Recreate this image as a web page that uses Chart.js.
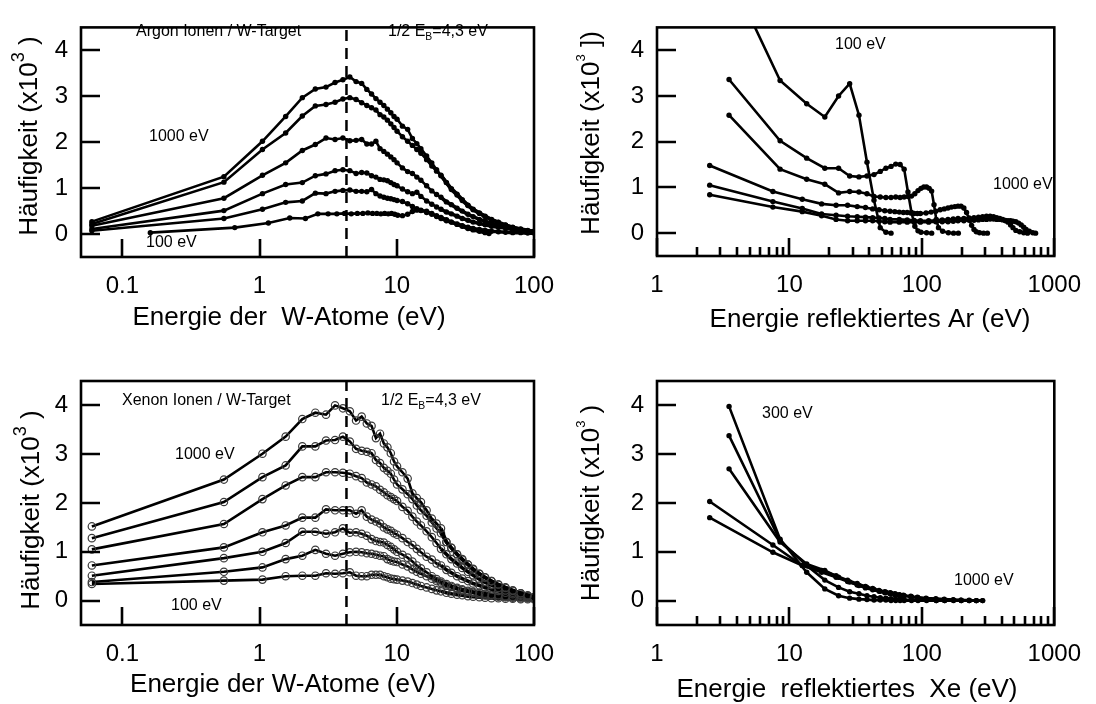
<!DOCTYPE html>
<html>
<head>
<meta charset="utf-8">
<title>Häufigkeit – W-Target</title>
<script src="https://cdn.jsdelivr.net/npm/chart.js@4.4.1/dist/chart.umd.min.js"></script>
<style>
  html, body { margin: 0; padding: 0; background: #fff; }
  #wrap { position: relative; width: 1096px; height: 704px; overflow: hidden; }
  #wrap canvas { position: absolute; left: 0; top: 0; }
</style>
</head>
<body>
<div id="wrap">
  <canvas id="arW" width="1096" height="704"></canvas>
  <canvas id="arR" width="1096" height="704"></canvas>
  <canvas id="xeW" width="1096" height="704"></canvas>
  <canvas id="xeR" width="1096" height="704"></canvas>
</div>
<script>
// ---- axes ----
const yTicks = [0, 1, 2, 3, 4];
const yMin = -0.5;
const yMax = 4.5;
const halfBind = 4.3; // 1/2 E_B
const wMajors = [0.1, 1, 10, 100];
const wLabels = ['0.1', '1', '10', '100'];
const rMajors = [1, 10, 100, 1000];
const rLabels = ['1', '10', '100', '1000'];
const minorSteps = [2, 3, 4, 5, 6, 7, 8, 9];

// ---- energy of sputtered W atoms (eV), shared bins ----
const gridW = [0.06, 0.55, 1.05, 1.55, 2.05, 2.55, 3.05, 3.55, 4.05, 4.55, 5.05, 5.55, 6.05, 6.55, 7.05, 7.55, 8.05, 8.55, 9.05, 9.55, 10.05,
  11, 12, 13, 14, 15, 16.5, 18, 19.5, 21, 23, 25, 27.5, 30, 33, 36, 40, 44, 49, 55, 62, 70, 80, 90, 100];

// Argon ions -> W atoms
const arW1000 = [0.27, 1.25, 2.02, 2.56, 2.97, 3.16, 3.20, 3.30, 3.36, 3.42, 3.32, 3.28, 3.15, 3.05, 2.95, 2.87, 2.80, 2.72, 2.64, 2.56, 2.50,
  2.35, 2.28, 2.08, 1.97, 1.86, 1.70, 1.55, 1.40, 1.28, 1.12, 0.97, 0.85, 0.73, 0.62, 0.53, 0.45, 0.38, 0.31, 0.25, 0.19, 0.14, 0.10, 0.07, 0.05];
const arW700 = [0.22, 1.13, 1.84, 2.20, 2.57, 2.79, 2.82, 2.87, 2.94, 2.97, 2.93, 2.86, 2.80, 2.75, 2.70, 2.60, 2.55, 2.48, 2.40, 2.32, 2.24,
  2.12, 2.02, 1.93, 1.84, 1.76, 1.62, 1.48, 1.37, 1.27, 1.12, 0.99, 0.87, 0.75, 0.63, 0.54, 0.46, 0.39, 0.32, 0.26, 0.20, 0.15, 0.11, 0.08, 0.06];
const arW500 = [0.18, 0.78, 1.28, 1.55, 1.82, 1.95, 2.09, 2.06, 2.09, 2.03, 2.04, 2.06, 1.96, 1.96, 2.02, 1.86, 1.80, 1.74, 1.68, 1.62, 1.55,
  1.44, 1.36, 1.32, 1.24, 1.17, 1.05, 0.94, 0.86, 0.80, 0.70, 0.64, 0.56, 0.50, 0.43, 0.38, 0.32, 0.28, 0.23, 0.19, 0.15, 0.11, 0.08, 0.06, 0.05];
const arW300 = [0.11, 0.51, 0.88, 1.08, 1.12, 1.27, 1.31, 1.38, 1.40, 1.38, 1.32, 1.34, 1.33, 1.27, 1.24, 1.19, 1.18, 1.16, 1.12, 1.08, 1.05,
  0.98, 0.92, 0.88, 0.91, 0.82, 0.72, 0.65, 0.59, 0.54, 0.48, 0.44, 0.39, 0.34, 0.30, 0.26, 0.23, 0.20, 0.17, 0.15, 0.13, 0.10, 0.08, 0.06, 0.05];
const arW200 = [0.07, 0.34, 0.54, 0.69, 0.72, 0.89, 0.88, 0.93, 0.95, 0.96, 0.93, 0.93, 0.92, 0.97, 0.88, 0.83, 0.80, 0.78, 0.77, 0.75, 0.73,
  0.71, 0.66, 0.60, 0.55, 0.51, 0.47, 0.43, 0.38, 0.34, 0.29, 0.26, 0.22, 0.18, 0.15, 0.12, 0.10, 0.08, 0.06, 0.05, 0.04, 0.03, 0.03, 0.02, 0.02];
const arW100x = [0.16, 0.66, 1.16, 1.66, 2.16, 2.66, 3.16, 3.66, 4.16, 4.66, 5.16, 5.66, 6.16, 6.66, 7.16, 7.66, 8.16, 8.66, 9.16, 9.66, 10.16,
  11, 12, 13, 14, 15, 16.5, 18, 19.5, 21, 23, 25, 27.5, 30, 33, 36, 40, 44, 47];
const arW100 = [0.03, 0.14, 0.24, 0.35, 0.34, 0.44, 0.44, 0.44, 0.45, 0.44, 0.45, 0.45, 0.46, 0.45, 0.45, 0.44, 0.45, 0.44, 0.45, 0.43, 0.41,
  0.40, 0.43, 0.49, 0.52, 0.52, 0.50, 0.45, 0.40, 0.36, 0.31, 0.26, 0.21, 0.17, 0.12, 0.09, 0.06, 0.03, 0.01];

// Xenon ions -> W atoms
const xeW1000 = [1.52, 2.48, 3.01, 3.36, 3.72, 3.85, 3.81, 4.00, 3.94, 3.88, 3.69, 3.77, 3.63, 3.58, 3.33, 3.42, 3.22, 3.14, 3.02, 2.85, 2.75,
  2.63, 2.50, 2.20, 2.10, 2.02, 1.85, 1.68, 1.58, 1.48, 1.20, 1.08, 0.95, 0.85, 0.74, 0.64, 0.55, 0.48, 0.40, 0.33, 0.26, 0.20, 0.15, 0.10, 0.07];
const xeW700 = [1.28, 2.02, 2.53, 2.77, 3.16, 3.16, 3.28, 3.29, 3.36, 3.26, 3.11, 3.07, 3.05, 3.02, 2.88, 2.82, 2.72, 2.66, 2.60, 2.48, 2.38,
  2.28, 2.18, 2.08, 1.95, 1.85, 1.74, 1.60, 1.48, 1.38, 1.20, 1.08, 0.95, 0.84, 0.74, 0.65, 0.55, 0.47, 0.40, 0.33, 0.27, 0.21, 0.15, 0.11, 0.07];
const xeW500 = [1.05, 1.57, 2.08, 2.36, 2.53, 2.53, 2.63, 2.63, 2.62, 2.60, 2.55, 2.51, 2.42, 2.38, 2.34, 2.27, 2.22, 2.16, 2.12, 2.08, 2.04,
  1.92, 1.84, 1.72, 1.62, 1.54, 1.42, 1.30, 1.18, 1.06, 0.95, 0.85, 0.76, 0.67, 0.59, 0.52, 0.44, 0.38, 0.32, 0.26, 0.21, 0.16, 0.12, 0.09, 0.07];
const xeW400 = [0.72, 1.09, 1.40, 1.54, 1.70, 1.70, 1.87, 1.85, 1.85, 1.85, 1.78, 1.85, 1.72, 1.66, 1.62, 1.58, 1.50, 1.46, 1.43, 1.38, 1.35,
  1.28, 1.20, 1.14, 1.06, 0.99, 0.90, 0.84, 0.76, 0.72, 0.63, 0.57, 0.50, 0.45, 0.40, 0.35, 0.31, 0.27, 0.23, 0.20, 0.16, 0.13, 0.10, 0.08, 0.07];
const xeW300 = [0.51, 0.87, 1.00, 1.18, 1.41, 1.41, 1.37, 1.40, 1.48, 1.39, 1.40, 1.37, 1.33, 1.26, 1.22, 1.20, 1.19, 1.14, 1.10, 1.05, 1.00,
  0.94, 0.88, 0.80, 0.72, 0.66, 0.58, 0.50, 0.44, 0.39, 0.34, 0.30, 0.26, 0.23, 0.20, 0.18, 0.16, 0.14, 0.12, 0.11, 0.09, 0.08, 0.07, 0.06, 0.05];
const xeW200 = [0.38, 0.59, 0.68, 0.85, 0.92, 1.04, 0.96, 0.92, 0.96, 0.99, 1.00, 0.99, 0.97, 0.96, 0.94, 0.92, 0.91, 0.85, 0.82, 0.80, 0.79,
  0.74, 0.70, 0.64, 0.59, 0.55, 0.50, 0.45, 0.40, 0.36, 0.31, 0.28, 0.24, 0.21, 0.18, 0.16, 0.13, 0.11, 0.10, 0.08, 0.07, 0.06, 0.05, 0.05, 0.05];
const xeW100 = [0.34, 0.41, 0.43, 0.50, 0.51, 0.51, 0.56, 0.55, 0.56, 0.58, 0.51, 0.50, 0.50, 0.53, 0.53, 0.53, 0.50, 0.48, 0.45, 0.44, 0.43,
  0.41, 0.39, 0.36, 0.33, 0.30, 0.27, 0.24, 0.21, 0.19, 0.16, 0.14, 0.12, 0.11, 0.09, 0.08, 0.07, 0.06, 0.05, 0.05, 0.04, 0.04, 0.03, 0.03, 0.03];

// ---- energy of reflected Ar (eV) ----
const arR100x = [3.5, 8.5, 13.5, 18.5, 23.5, 28.5, 33.5, 38.5, 43.5, 48.5, 53.5, 58.5];
const arR100 = [5.7, 3.34, 2.83, 2.54, 3.0, 3.27, 2.58, 1.55, 0.72, 0.12, 0.02, 0.0];
const arR200x = [3.5, 8.5, 13.5, 18.5, 23.5, 28.5, 33.5, 38.5, 43.5, 48.5, 53.5, 58.5, 63.5, 68.5, 73.5, 78.5, 83.5, 88.5, 93.5, 98.5, 108.5, 118.5];
const arR200 = [3.36, 2.02, 1.64, 1.42, 1.42, 1.25, 1.23, 1.25, 1.28, 1.35, 1.42, 1.46, 1.51, 1.50, 1.40, 0.90, 0.45, 0.15, 0.05, 0.02, 0.01, 0.0];
const arR300x = [3.5, 8.5, 13.5, 18.5, 23.5, 28.5, 33.5, 38.5, 43.5, 48.5, 53.5, 58.5, 63.5, 68.5, 73.5, 78.5, 83.5, 88.5, 93.5, 98.5,
  103.5, 108.5, 113.5, 118.5, 123.5, 128.5, 133.5, 143.5, 158.5, 173.5, 188.5];
const arR300 = [2.58, 1.40, 1.18, 1.07, 0.88, 0.91, 0.90, 0.86, 0.80, 0.79, 0.78, 0.78, 0.79, 0.78, 0.79, 0.80, 0.81, 0.86, 0.93, 0.98,
  1.01, 1.01, 0.98, 0.92, 0.62, 0.30, 0.12, 0.04, 0.01, 0.0, 0.0];
const arR500x = [2.5, 7.5, 12.5, 17.5, 22.5, 27.5, 32.5, 37.5, 42.5, 47.5, 52.5, 57.5, 62.5, 67.5, 72.5, 77.5, 82.5, 87.5, 92.5, 97.5,
  107.5, 117.5, 127.5, 137.5, 147.5, 157.5, 167.5, 177.5, 187.5, 197.5, 207.5, 217.5, 227.5, 237.5, 247.5, 257.5, 272.5, 292.5, 312.5];
const arR500 = [1.48, 0.91, 0.74, 0.64, 0.61, 0.61, 0.58, 0.56, 0.53, 0.51, 0.49, 0.48, 0.47, 0.46, 0.45, 0.45, 0.44, 0.43, 0.43, 0.43,
  0.44, 0.46, 0.48, 0.51, 0.53, 0.55, 0.57, 0.58, 0.59, 0.59, 0.55, 0.45, 0.30, 0.17, 0.08, 0.03, 0.01, 0.0, 0.0];
const arR700x = [2.5, 7.5, 12.5, 17.5, 22.5, 27.5, 32.5, 37.5, 42.5, 47.5, 52.5, 57.5, 67.5, 77.5, 87.5, 97.5, 112.5, 127.5, 142.5, 157.5,
  172.5, 187.5, 207.5, 227.5, 247.5, 267.5, 287.5, 307.5, 327.5, 347.5, 367.5, 387.5, 407.5, 427.5, 447.5, 467.5, 487.5, 512.5, 547.5, 587.5, 627.5];
const arR700 = [1.05, 0.69, 0.54, 0.42, 0.39, 0.37, 0.36, 0.35, 0.34, 0.33, 0.32, 0.30, 0.30, 0.29, 0.28, 0.27, 0.27, 0.28, 0.29, 0.30,
  0.31, 0.32, 0.32, 0.33, 0.34, 0.35, 0.36, 0.37, 0.37, 0.36, 0.34, 0.32, 0.30, 0.27, 0.24, 0.18, 0.12, 0.06, 0.03, 0.01, 0.0];
const arR1000x = [2.5, 7.5, 12.5, 17.5, 22.5, 27.5, 32.5, 37.5, 42.5, 47.5, 52.5, 57.5, 67.5, 77.5, 87.5, 97.5, 112.5, 127.5, 142.5, 157.5,
  172.5, 187.5, 207.5, 227.5, 247.5, 267.5, 287.5, 307.5, 327.5, 347.5, 367.5, 387.5, 407.5, 427.5, 447.5, 467.5, 487.5, 512.5, 537.5, 562.5,
  587.5, 612.5, 647.5, 687.5, 722.5];
const arR1000 = [0.84, 0.57, 0.47, 0.38, 0.30, 0.27, 0.27, 0.27, 0.27, 0.26, 0.25, 0.24, 0.24, 0.24, 0.24, 0.24, 0.24, 0.25, 0.25, 0.25,
  0.26, 0.27, 0.27, 0.28, 0.28, 0.29, 0.30, 0.30, 0.31, 0.31, 0.30, 0.30, 0.29, 0.28, 0.27, 0.27, 0.26, 0.25, 0.22, 0.18,
  0.13, 0.08, 0.04, 0.01, 0.0];

// ---- energy of reflected Xe (eV) ----
const xeRx1 = [3.5, 8.5, 13.5, 18.5, 23.5, 28.5, 33.5, 38.5, 43.5, 48.5, 53.5, 58.5, 63.5, 68.5, 73.5, 83.5, 93.5, 108.5, 128.5, 148.5,
  173.5, 198.5, 228.5, 258.5, 288.5];
const xeRx2 = [2.5, 7.5, 12.5, 17.5, 22.5, 27.5, 32.5, 37.5, 42.5, 47.5, 52.5, 57.5, 62.5, 67.5, 72.5, 82.5, 92.5, 107.5, 127.5, 147.5,
  172.5, 197.5, 227.5, 257.5, 287.5];
const xeR300 = [3.98, 1.26, 0.58, 0.24, 0.10, 0.05, 0.03, 0.02, 0.01, 0.01, 0.01, 0.0, 0.0, 0.0, 0.0, 0.0, 0.0, 0.0, 0.0, 0.0];
const xeR500 = [3.38, 1.23, 0.72, 0.42, 0.27, 0.18, 0.14, 0.10, 0.08, 0.06, 0.05, 0.04, 0.03, 0.03, 0.02, 0.01, 0.01, 0.01, 0.0, 0.0, 0.0, 0.0];
const xeR700 = [2.70, 1.20, 0.75, 0.62, 0.48, 0.38, 0.31, 0.27, 0.23, 0.19, 0.17, 0.15, 0.13, 0.11, 0.10, 0.08, 0.06, 0.04, 0.02, 0.01,
  0.01, 0.0, 0.0, 0.0];
const xeR800 = [2.03, 1.14, 0.72, 0.58, 0.48, 0.39, 0.32, 0.26, 0.22, 0.19, 0.16, 0.14, 0.12, 0.11, 0.10, 0.08, 0.06, 0.04, 0.03, 0.02,
  0.01, 0.01, 0.0, 0.0, 0.0];
const xeR1000 = [1.70, 0.99, 0.72, 0.62, 0.51, 0.42, 0.35, 0.29, 0.25, 0.21, 0.18, 0.16, 0.14, 0.12, 0.11, 0.09, 0.07, 0.05, 0.04, 0.03,
  0.02, 0.01, 0.01, 0.0, 0.0];

const FONT = '"Liberation Sans", Arial, Helvetica, sans-serif';
Chart.defaults.font.family = FONT;
Chart.defaults.color = '#000';

const pts = (xs, ys) => ys.map((y, i) => ({ x: xs[i], y }));

// the dense high-energy bins read as a heavy band in the original
const heavyTail = (from) => ({
  borderWidth: (c) => (c.p0.parsed.x >= from ? 3.6 : undefined),
});

const dotLine = (xs, ys, tailFrom = Infinity) => ({
  data: pts(xs, ys),
  borderColor: '#000',
  borderWidth: 2.6,
  pointRadius: 2.7,
  pointBackgroundColor: '#000',
  pointBorderWidth: 0,
  tension: 0,
  segment: heavyTail(tailFrom),
});

const ringLine = (xs, ys) => ({
  data: pts(xs, ys),
  borderColor: '#000',
  borderWidth: 2.6,
  pointRadius: 3.7,
  pointBackgroundColor: 'rgba(0,0,0,0)',
  pointBorderColor: '#3a3a3a',
  pointBorderWidth: 1.2,
  tension: 0,
  segment: heavyTail(20),
});

const bindLine = () => ({
  data: [{ x: halfBind, y: yMin }, { x: halfBind, y: yMax }],
  borderColor: '#000',
  borderWidth: 2.5,
  borderDash: [11, 7],
  pointRadius: 0,
});

// rich text: parts = [[text, 'sub'|'sup'|undefined], ...]
const partFont = (kind, size, supScale) => (kind ? size * supScale : size);
const measureRich = (ctx, parts, size, supScale = 0.65) => parts.reduce((w, [t, kind]) => {
  ctx.font = `${partFont(kind, size, supScale)}px ${FONT}`;
  return w + ctx.measureText(t).width;
}, 0);
const drawRich = (ctx, parts, x, y, size, supScale = 0.65) => {
  let cx = x;
  parts.forEach(([t, kind]) => {
    ctx.font = `${partFont(kind, size, supScale)}px ${FONT}`;
    let dy = 0;
    if (kind === 'sub') dy = size * 0.3;
    if (kind === 'sup') dy = -size * 0.42;
    ctx.fillText(t, cx, y + dy);
    cx += ctx.measureText(t).width;
  });
};

const eb = [['1/2 E'], ['B', 'sub'], ['=4,3 eV']];

const panels = {
  arW: {
    box: { left: 81, top: 10, right: 534, bottom: 257 }, yw: 81,
    range: [0.05, 100], majors: wMajors, labels: wLabels, minor: false,
    notes: [
      { parts: [['Argon Ionen / W-Target']], x: 136, y: 32 },
      { parts: eb, x: 388, y: 32 },
      { parts: [['1000 eV']], x: 149, y: 137 },
      { parts: [['100 eV']], x: 146, y: 243 },
    ],
    xTitle: { parts: [['Energie der  W-Atome (eV)']], x: 289, y: 318 },
    yTitle: { parts: [['Häufigkeit (x10'], ['3', 'sup'], [' )']], x: 30, y: 136, sup: 0.7 },
    datasets: [bindLine(), dotLine(gridW, arW1000, 20), dotLine(gridW, arW700, 20), dotLine(gridW, arW500, 20),
      dotLine(gridW, arW300, 20), dotLine(gridW, arW200, 20), dotLine(arW100x, arW100, 20)],
  },
  arR: {
    box: { left: 657, top: 10, right: 1063, bottom: 256 }, yw: 109,
    range: [1, 1000], majors: rMajors, labels: rLabels, minor: true,
    notes: [
      { parts: [['100 eV']], x: 835, y: 45 },
      { parts: [['1000 eV']], x: 993, y: 185 },
    ],
    xTitle: { parts: [['Energie reflektiertes Ar (eV)']], x: 870, y: 320 },
    yTitle: { parts: [['Häufigkeit (x10'], ['3', 'sup'], [' ])']], x: 592, y: 133, sup: 0.5 },
    datasets: [dotLine(arR100x, arR100), dotLine(arR200x, arR200), dotLine(arR300x, arR300),
      dotLine(arR500x, arR500), dotLine(arR700x, arR700), dotLine(arR1000x, arR1000)],
  },
  xeW: {
    box: { left: 81, top: 381, right: 534, bottom: 625 }, yw: 81,
    range: [0.05, 100], majors: wMajors, labels: wLabels, minor: false,
    notes: [
      { parts: [['Xenon Ionen / W-Target']], x: 122, y: 401 },
      { parts: eb, x: 381, y: 401 },
      { parts: [['1000 eV']], x: 175, y: 455 },
      { parts: [['100 eV']], x: 171, y: 606 },
    ],
    xTitle: { parts: [['Energie der W-Atome (eV)']], x: 283, y: 685 },
    yTitle: { parts: [['Häufigkeit (x10'], ['3', 'sup'], [' )']], x: 32, y: 510, sup: 0.7 },
    datasets: [bindLine(), ringLine(gridW, xeW1000), ringLine(gridW, xeW700), ringLine(gridW, xeW500),
      ringLine(gridW, xeW400), ringLine(gridW, xeW300), ringLine(gridW, xeW200), ringLine(gridW, xeW100)],
  },
  xeR: {
    box: { left: 657, top: 381, right: 1064, bottom: 625 }, yw: 109,
    range: [1, 1000], majors: rMajors, labels: rLabels, minor: true,
    notes: [
      { parts: [['300 eV']], x: 762, y: 414 },
      { parts: [['1000 eV']], x: 954, y: 581 },
    ],
    xTitle: { parts: [['Energie  reflektiertes  Xe (eV)']], x: 847, y: 690 },
    yTitle: { parts: [['Häufigkeit (x10'], ['3', 'sup'], [' )']], x: 592, y: 503, sup: 0.5 },
    datasets: [dotLine(xeRx1, xeR300), dotLine(xeRx1, xeR500), dotLine(xeRx1, xeR700),
      dotLine(xeRx2, xeR800), dotLine(xeRx2, xeR1000)],
  },
};

const X_AXIS_H = 60; // room for the tick labels under each box

// box, inward ticks and all free text
const frame = {
  id: 'frame',
  afterDraw(chart) {
    const p = panels[chart.canvas.id];
    const { ctx, chartArea: a } = chart;
    const xs = chart.scales.x;
    const ys = chart.scales.y;
    ctx.save();
    ctx.strokeStyle = '#000';
    ctx.lineWidth = 2.6;
    ctx.strokeRect(a.left, a.top, a.right - a.left, a.bottom - a.top);
    ctx.beginPath();
    yTicks.forEach((v) => {
      const py = Math.round(ys.getPixelForValue(v));
      ctx.moveTo(a.left, py);
      ctx.lineTo(a.left + 19, py);
    });
    xs.ticks.forEach((t) => {
      const px = Math.round(xs.getPixelForValue(t.value));
      const len = p.majors.includes(t.value) ? 18 : 9;
      ctx.moveTo(px, a.bottom);
      ctx.lineTo(px, a.bottom - len);
    });
    ctx.stroke();

    ctx.fillStyle = '#000';
    ctx.textAlign = 'left';
    ctx.textBaseline = 'middle';
    p.notes.forEach((n) => drawRich(ctx, n.parts, n.x, n.y, 16, 0.65));

    const xt = p.xTitle;
    const wx = measureRich(ctx, xt.parts, 26);
    drawRich(ctx, xt.parts, xt.x - wx / 2, xt.y, 26);

    const yt = p.yTitle;
    const wy = measureRich(ctx, yt.parts, 26, yt.sup);
    ctx.translate(yt.x, yt.y);
    ctx.rotate(-Math.PI / 2);
    drawRich(ctx, yt.parts, -wy / 2, 0, 26, yt.sup);
    ctx.restore();
  },
};

Object.keys(panels).forEach((id) => {
  const p = panels[id];
  const xTickValues = p.minor
    ? p.majors.slice(0, -1).flatMap((d) => [d, ...minorSteps.map((m) => m * d)]).concat(p.majors.slice(-1))
    : p.majors;
  new Chart(document.getElementById(id), {
    type: 'line',
    data: { datasets: p.datasets },
    options: {
      responsive: false,
      animation: false,
      events: [],
      layout: {
        padding: {
          left: p.box.left - p.yw,
          top: p.box.top,
          right: 1096 - p.box.right,
          bottom: 704 - p.box.bottom - X_AXIS_H,
        },
      },
      plugins: { legend: { display: false }, tooltip: { enabled: false } },
      scales: {
        x: {
          type: 'logarithmic',
          min: p.range[0],
          max: p.range[1],
          grid: { display: false, drawTicks: false },
          border: { display: false },
          afterBuildTicks: (s) => { s.ticks = xTickValues.map((v) => ({ value: v })); },
          afterFit: (s) => { s.height = X_AXIS_H; },
          ticks: {
            autoSkip: false,
            maxRotation: 0,
            padding: 15,
            font: { size: 24 },
            callback: (v) => {
              const i = p.majors.indexOf(v);
              return i < 0 ? '' : p.labels[i];
            },
          },
        },
        y: {
          type: 'linear',
          min: yMin,
          max: yMax,
          grid: { display: false, drawTicks: false },
          border: { display: false },
          afterBuildTicks: (s) => { s.ticks = yTicks.map((v) => ({ value: v })); },
          afterFit: (s) => { s.width = p.yw; },
          ticks: { padding: 13, font: { size: 24 } },
        },
      },
    },
    plugins: [frame],
  });
});
</script>
</body>
</html>
